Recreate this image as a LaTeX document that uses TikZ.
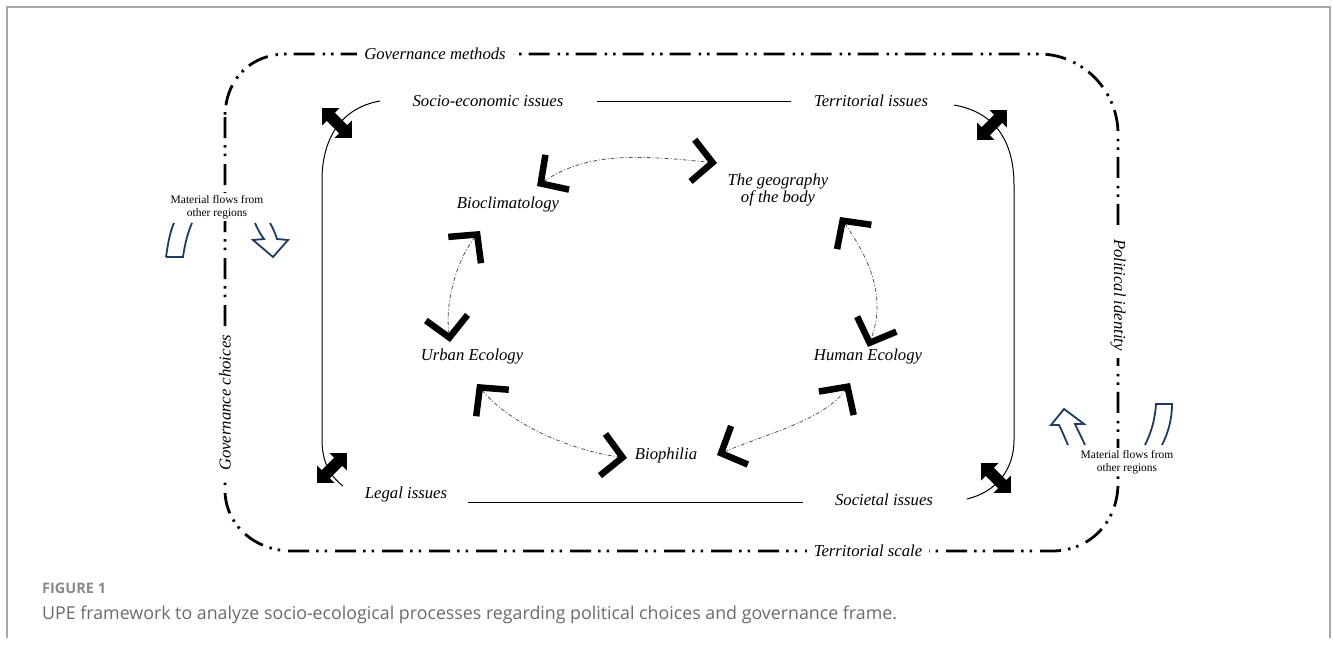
\documentclass[tikz,border=0pt]{standalone}
\usepackage{fontspec}
\setmainfont{Liberation Serif}
\newfontfamily\capfont{Open Sans}
\usetikzlibrary{arrows.meta,shapes.arrows,calc}
\definecolor{frameg}{HTML}{A8A8A8}
\definecolor{flowc}{HTML}{4A5470}
\definecolor{navyc}{HTML}{1F3A63}
\definecolor{capg}{HTML}{6A6A6A}
\definecolor{figg}{HTML}{8A8A8A}
\tikzset{
  lbl/.style={font=\fontsize{16.7}{15}\selectfont\itshape, inner sep=1pt},
  onl/.style={lbl, fill=white, inner sep=7pt},
  mflow/.style={font=\fontsize{11.5}{13}\selectfont, align=center, fill=white, inner sep=2pt},
  ring/.style={draw=flowc, line width=0.8pt, dash pattern=on 4pt off 2pt on 1pt off 2pt},
  chev/.tip={Straight Barb[sharp, length=20pt, width=42pt, line width=6.5pt, color=black]},
  outer/.style={line width=2.8pt, dash pattern=on 21pt off 7pt on 2.5pt off 6pt on 2.5pt off 8pt},
  solidl/.style={line width=1pt},
  dbl/.style={double arrow, fill=black, inner xsep=0pt, inner ysep=5.5pt, minimum height=42pt, double arrow head extend=6.5pt},
  hollow/.style={draw=navyc, line width=1.8pt, line join=miter},
}
\begin{document}
\begin{tikzpicture}[x=1pt,y=-1pt]
\useasboundingbox (0,0) rectangle (1333,648);
% outer gray frame
\draw[frameg, line width=1.6pt] (7,638) -- (7,7) -- (1330,7) -- (1330,638);
% dashed outer frame
\draw[outer] (225,117) -- (225,490) .. controls (225,525) and (255,551) .. (292,551) -- (1052,551) .. controls (1090,551) and (1118,522) .. (1118,483) -- (1118,134) .. controls (1118,90) and (1082,54) .. (1039,54) -- (287,54) .. controls (250,54) and (225,80) .. (225,117) -- cycle;
% labels on dashed frame
\node[onl] (gm) at (435,54) {Governance methods};
\node[onl] (ts) at (868,551) {Territorial scale};
\node[onl, rotate=90] (gc) at (225,403) {Governance choices};
\node[onl, rotate=-90] (pi) at (1118,295) {Political identity};
% material flows
\draw[hollow] (166,257) .. controls (168,243) and (170,232) .. (174,223);
\draw[hollow] (166,257) -- (183,257) .. controls (185,243) and (188,232) .. (192,223);
\draw[hollow] (255,223) .. controls (258,230) and (261,235) .. (264,239) -- (253,240) -- (273,257) -- (288,240) -- (277,239) .. controls (275,233) and (273,228) .. (270,223);
\draw[hollow] (1068,445) .. controls (1065,438) and (1062,431) .. (1059,425) -- (1051,425) -- (1064,409) -- (1084,424) -- (1075,424) .. controls (1078,431) and (1082,438) .. (1085,445);
\draw[hollow] (1145,445) .. controls (1151,433) and (1155,420) .. (1156,404) -- (1172,404) .. controls (1172,420) and (1168,433) .. (1162,445);
\node[mflow] (mf1) at (217,207) {Material flows from\\other regions};
\node[mflow] (mf2) at (1127,462) {Material flows from\\other regions};
% issues
\node[lbl] (se) at (488,101) {Socio-economic issues};
\node[lbl] (te) at (871,101) {Territorial issues};
\node[lbl] (li) at (406,494) {Legal issues};
\node[lbl] (si) at (884,500) {Societal issues};
\coordinate (tl1) at (597,101);
\coordinate (tl2) at (791,101);
\coordinate (bl1) at (468,502);
\coordinate (bl2) at (803,502);
\draw[solidl] (tl1) -- (tl2);
\draw[solidl] (bl1) -- (bl2);
\coordinate (lc1) at (380,101);
\coordinate (lc2) at (343,486);
\coordinate (rc1) at (954,105);
\coordinate (rc2) at (967,499);
\draw[solidl] (lc1) .. controls (340,108) and (322,140) .. (322,180) -- (322,440) .. controls (322,462) and (330,476) .. (lc2);
\draw[solidl] (rc1) .. controls (994,112) and (1014,140) .. (1014,185) -- (1014,440) .. controls (1014,470) and (996,492) .. (rc2);
\node[dbl, rotate=-45] (da1) at (337,123) {};
\node[dbl, rotate=45] (da2) at (992,125) {};
\node[dbl, rotate=45] (da3) at (332,468) {};
\node[dbl, rotate=-45] (da4) at (996,478) {};
% ring
\node[lbl] (bio) at (508,205) {Bioclimatology};
\node[lbl, align=center] (geo) at (778,190) {The geography\\of the body};
\node[lbl] (urb) at (472,357) {Urban Ecology};
\node[lbl] (hum) at (868,357) {Human Ecology};
\node[lbl] (bph) at (666,455) {Biophilia};
\coordinate (b1) at (537,186);
\coordinate (g1) at (717,163);
\coordinate (b2) at (480,231);
\coordinate (u1) at (450,342);
\coordinate (u2) at (477,384);
\coordinate (p1) at (627,458);
\coordinate (p2) at (717,455);
\coordinate (h1) at (850,383);
\coordinate (g2) at (840,217);
\coordinate (h2) at (868,347);
\draw[ring, chev-chev] (b1) .. controls (587,152) and (637,155) .. (g1);
\draw[ring, chev-chev] (b2) .. controls (455,262) and (445,305) .. (u1);
\draw[ring, chev-chev] (u2) .. controls (508,422) and (567,450) .. (p1);
\draw[ring, chev-chev] (p2) .. controls (763,435) and (825,420) .. (h1);
\draw[ring, chev-chev] (g2) .. controls (872,262) and (886,300) .. (h2);
% caption
\node[anchor=base west, font=\capfont\bfseries\fontsize{14.5}{16}\selectfont, text=figg, inner sep=0pt] (fig) at (42,593) {FIGURE 1};
\node[anchor=base west, font=\capfont\fontsize{17.8}{20}\selectfont, text=capg, inner sep=0pt] (cap) at (42,619) {UPE framework to analyze socio-ecological processes regarding political choices and governance frame.};
\end{tikzpicture}
\end{document}
